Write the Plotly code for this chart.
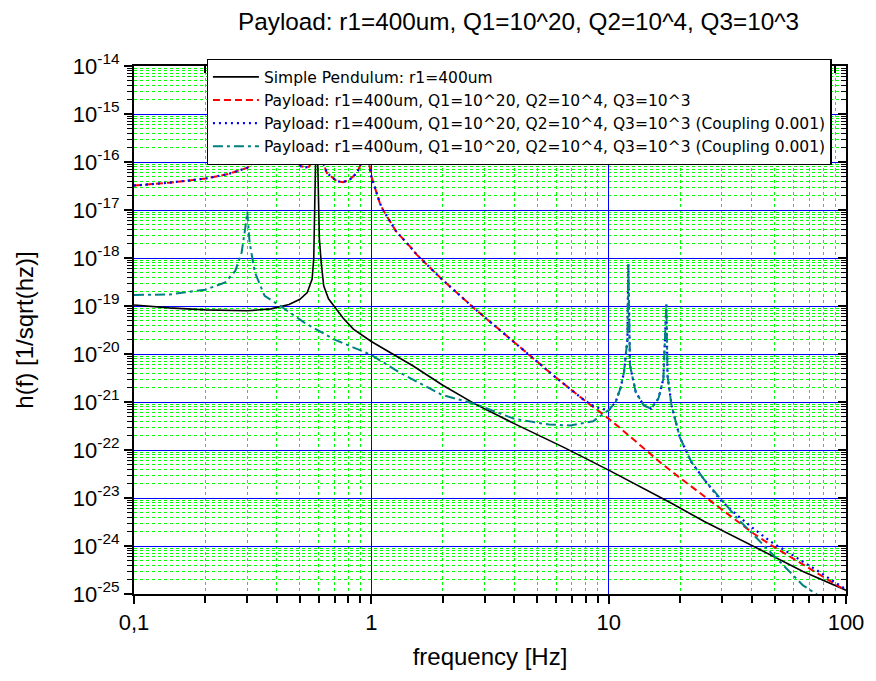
import numpy as np
import plotly.graph_objects as go

# ---- data (frequency in Hz, log10 of h(f)) ----
pend_f = [0.1, 0.141, 0.2, 0.3, 0.378, 0.45, 0.5, 0.537, 0.563, 0.572, 0.578, 0.584, 0.588,
          0.592, 0.598, 0.604, 0.615, 0.63, 0.66, 0.693, 0.76, 0.84, 1.0, 1.23, 1.49, 2.0,
          2.73, 4.0, 6.44, 10, 18.4, 25.3, 34.8, 47.9, 65.9, 100]
pend_lg = [-18.98, -19.04, -19.08, -19.10, -19.06, -18.97, -18.86, -18.72, -18.44, -18.0,
           -16.8, -15.6, -15.0, -15.6, -16.8, -17.6, -18.1, -18.58, -18.85, -18.995, -19.25,
           -19.48, -19.74, -20.0, -20.24, -20.65, -21.04, -21.45, -21.94, -22.42, -23.11,
           -23.49, -23.84, -24.18, -24.53, -24.92]

payload_f = [0.1, 0.141, 0.2, 0.25, 0.3, 0.323, 0.35, 0.4, 0.45, 0.473, 0.49, 0.505, 0.53,
             0.546, 0.56, 0.575, 0.59, 0.614, 0.65, 0.716, 0.76, 0.81, 0.87, 0.91, 0.93,
             0.95, 0.969, 1.0, 1.05, 1.085, 1.12, 1.19, 1.27, 1.466, 1.56, 1.98, 2.73, 4.0,
             5.86, 7.93, 9.9, 11.4, 14.3, 16.7, 19.6, 22.3, 25.3, 29.7, 34.8, 40.8, 47.9,
             56.2, 65.9, 77.3, 100]
payload_lg = [-16.49, -16.43, -16.345, -16.25, -16.12, -15.99, -15.7, -15.0, -15.6, -15.92,
              -16.03, -16.09, -16.11, -16.10, -16.0, -15.8, -15.0, -15.9, -16.23, -16.40,
              -16.42, -16.37, -16.23, -16.02, -15.9, -15.0, -15.9, -16.30, -16.62, -16.85,
              -17.0, -17.20, -17.44, -17.78, -17.94, -18.44, -19.06, -19.755, -20.45,
              -20.97, -21.33, -21.58, -22.0, -22.28, -22.55, -22.76, -22.97, -23.24, -23.50,
              -23.74, -23.97, -24.18, -24.39, -24.60, -24.93]

coupled_f = [0.1, 0.141, 0.2, 0.25, 0.3, 0.323, 0.35, 0.4, 0.45, 0.473, 0.49, 0.505, 0.53,
             0.546, 0.56, 0.575, 0.59, 0.614, 0.65, 0.716, 0.76, 0.81, 0.87, 0.91, 0.93,
             0.95, 0.969, 1.0, 1.05, 1.085, 1.12, 1.19, 1.27, 1.466, 1.56, 1.98, 2.73, 4.0,
             5.86, 7.93, 8.75, 9.5, 10.0, 10.7, 11.25, 11.6, 12.0, 12.1, 12.3, 13.0, 14.05,
             15.1, 16.2, 17.0, 17.5, 17.7, 18.4, 19.95, 22.3, 25.3, 29.7, 34.8, 40.8, 47.9,
             56.2, 65.9, 77.3, 90, 100]
coupled_lg = [-16.49, -16.43, -16.345, -16.25, -16.12, -15.99, -15.7, -15.0, -15.6, -15.92,
              -16.03, -16.09, -16.11, -16.10, -16.0, -15.8, -15.0, -15.9, -16.23, -16.40,
              -16.42, -16.37, -16.23, -16.02, -15.9, -15.0, -15.9, -16.30, -16.62, -16.85,
              -17.0, -17.20, -17.44, -17.78, -17.94, -18.44, -19.06, -19.755, -20.45,
              -20.97, -21.10, -21.15, -21.17, -21.0, -20.69, -20.38, -19.69, -18.13, -20.24,
              -20.79, -21.07, -21.14, -20.93, -20.52, -18.97, -20.45, -21.07, -21.74, -22.25,
              -22.62, -23.05, -23.36, -23.64, -23.90, -24.11, -24.32, -24.54, -24.76, -24.9]

coupled2_f = [0.1, 0.141, 0.2, 0.242, 0.267, 0.284, 0.295, 0.3, 0.307, 0.323, 0.355, 0.417,
              0.52, 0.693, 1.0, 1.31, 1.98, 2.73, 4.0, 5.6, 6.9, 8.6, 10.0, 10.7, 11.25, 11.6,
              12.0, 12.1, 12.3, 13.0, 14.05, 15.1, 16.2, 17.0, 17.5, 17.7, 18.4, 19.95, 22.3,
              25.3, 29.7, 34.8, 40.8, 47.9, 56.2, 65.9, 74.9, 85]
coupled2_lg = [-18.77, -18.76, -18.66, -18.51, -18.27, -17.89, -17.34, -17.04, -17.68, -18.30,
               -18.79, -19.01, -19.34, -19.69, -20.02, -20.38, -20.85, -21.04, -21.35, -21.47,
               -21.49, -21.40, -21.17, -21.0, -20.69, -20.38, -19.69, -18.13, -20.24, -20.79,
               -21.07, -21.14, -20.93, -20.52, -18.97, -20.45, -21.07, -21.74, -22.25, -22.62,
               -23.02, -23.42, -23.77, -24.12, -24.47, -24.82, -25.0, -25.28]

names = ["Simple Pendulum: r1=400um",
         "Payload: r1=400um, Q1=10^20, Q2=10^4, Q3=10^3",
         "Payload: r1=400um, Q1=10^20, Q2=10^4, Q3=10^3 (Coupling 0.001)",
         "Payload: r1=400um, Q1=10^20, Q2=10^4, Q3=10^3 (Coupling 0.001)"]

x_major = [0.1, 1, 10, 100]
x_labels = ["0,1", "1", "10", "100"]
y_exps = list(range(-25, -13))
y_major = [10.0 ** e for e in y_exps]
y_labels = ["10<sup>%d</sup>" % e for e in y_exps]

x_minor = [k * 10.0 ** d for d in range(-1, 2) for k in range(2, 10)]
y_minor = [k * 10.0 ** d for d in range(-25, -14) for k in range(2, 10)]

FONT = "Liberation Sans, Arial, sans-serif"
LFONT = "DejaVu Sans, Liberation Sans, sans-serif"

fig = go.Figure()
series = [
    (pend_f, pend_lg, "#000000", "solid", 1.6),
    (payload_f, payload_lg, "#ff0000", "7px,4px", 2),
    (coupled_f, coupled_lg, "#0000ff", "2px,4px", 2.2),
    (coupled2_f, coupled2_lg, "#008080", "10px,4px,3px,4px", 2),
]
for (f, lg, col, dash, w), nm in zip(series, names):
    fig.add_trace(go.Scatter(x=f, y=np.power(10.0, lg), mode="lines", name=nm,
                             line=dict(color=col, dash=dash, width=w)))

# invisible trace so that the mirrored (top/right) axes are drawn
fig.add_trace(go.Scatter(x=[1], y=[1e-20], xaxis="x2", yaxis="y2", mode="markers",
                         marker=dict(opacity=0), showlegend=False, hoverinfo="skip"))

common_x = dict(type="log", range=[-1, 2], tickvals=x_major)
common_y = dict(type="log", range=[-25, -14], tickvals=y_major)

fig.update_layout(
    width=876, height=681,
    margin=dict(l=134, r=19, t=66, b=87),
    paper_bgcolor="white", plot_bgcolor="white",
    font=dict(family=FONT, color="black"),
    title=dict(text="Payload: r1=400um, Q1=10^20, Q2=10^4, Q3=10^3",
               font=dict(size=24.3, family=FONT, color="black"),
               x=0.592, xref="container", xanchor="center",
               y=0.968, yref="container", yanchor="middle"),
    xaxis=dict(**common_x, ticktext=x_labels, ticks="outside", ticklen=8, tickwidth=1.5,
               tickcolor="black", showline=True, linecolor="black", linewidth=2,
               showgrid=True, gridcolor="#0000ff", gridwidth=1,
               tickfont=dict(size=22, family=FONT),
               title=dict(text="frequency [Hz]", font=dict(size=24, family=FONT), standoff=14),
               minor=dict(tickmode="array", tickvals=x_minor, ticks="outside", ticklen=7,
                          tickwidth=1.5, tickcolor="black", showgrid=True,
                          gridcolor="#00ff00", griddash="dot", gridwidth=1),
               zeroline=False),
    yaxis=dict(**common_y, ticktext=y_labels, ticks="outside", ticklen=8, tickwidth=1.5,
               tickcolor="black", showline=True, linecolor="black", linewidth=2,
               showgrid=True, gridcolor="#0000ff", gridwidth=1,
               tickfont=dict(size=22, family=FONT),
               title=dict(text="h(f) [1/sqrt(hz)]", font=dict(size=24, family=FONT), standoff=32),
               minor=dict(tickmode="array", tickvals=y_minor, ticks="outside", ticklen=5,
                          tickwidth=1.2, tickcolor="black", showgrid=True,
                          gridcolor="#00ff00", griddash="dot", gridwidth=1),
               zeroline=False),
    xaxis2=dict(**common_x, overlaying="x", side="top", anchor="y", ticks="inside",
                ticklen=8, tickwidth=1.5, tickcolor="black", showticklabels=False,
                showline=True, linecolor="black", linewidth=2, showgrid=False,
                minor=dict(tickmode="array", tickvals=x_minor, ticks="inside", ticklen=7,
                           tickwidth=1.5, tickcolor="black", showgrid=False),
                zeroline=False),
    yaxis2=dict(**common_y, overlaying="y", side="right", anchor="x", ticks="inside",
                ticklen=8, tickwidth=1.5, tickcolor="black", showticklabels=False,
                showline=True, linecolor="black", linewidth=2, showgrid=False,
                minor=dict(tickmode="array", tickvals=y_minor, ticks="inside", ticklen=5,
                           tickwidth=1.2, tickcolor="black", showgrid=False),
                zeroline=False),
    legend=dict(x=0.102, y=1.0133, xanchor="left", yanchor="top",
                bgcolor="white", bordercolor="black", borderwidth=1.3,
                font=dict(size=15.5, family=LFONT, color="black"),
                itemwidth=46, tracegroupgap=0),
    showlegend=True,
)

fig.write_html("out.html")
